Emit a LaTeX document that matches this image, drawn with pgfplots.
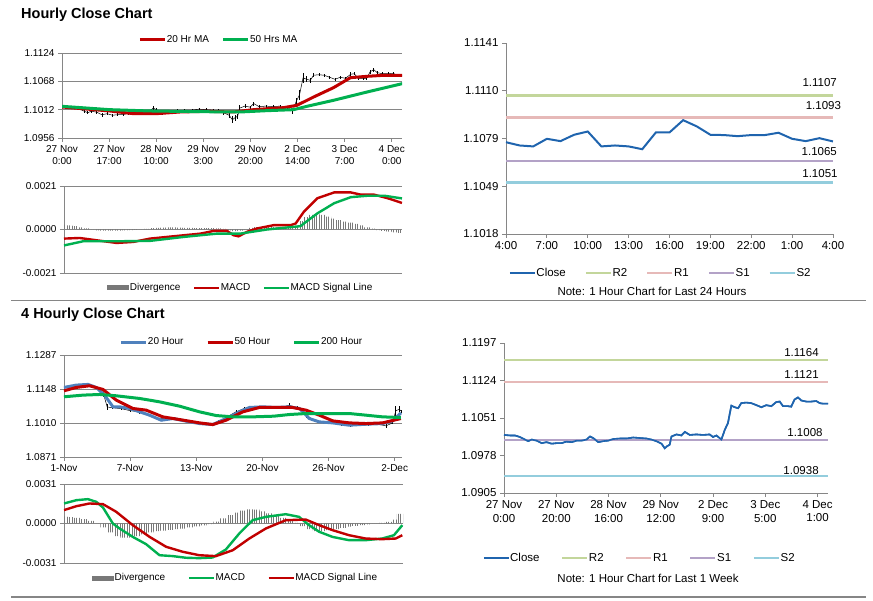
\documentclass[border=0pt]{standalone}
\usepackage{fontspec}
\setmainfont{Liberation Sans}
\usepackage{pgfplots}
\pgfplotsset{compat=1.18}
\usepackage{pgfplotstable}
\usetikzlibrary{patterns.meta}

\definecolor{ma20}{RGB}{192,0,0}
\definecolor{ma50}{RGB}{0,176,80}
\definecolor{steel}{RGB}{79,129,189}
\definecolor{closeblue}{RGB}{31,100,174}
\definecolor{rtwo}{RGB}{195,214,155}
\definecolor{rone}{RGB}{230,185,184}
\definecolor{sone}{RGB}{179,162,199}
\definecolor{stwo}{RGB}{147,205,221}
\definecolor{axisgray}{RGB}{134,134,134}
\definecolor{divgray}{RGB}{120,120,120}

\newcommand{\fs}{\fontsize{10}{12}\selectfont}
\newcommand{\fb}{\fontsize{11.5}{13.5}\selectfont}

\pgfplotsset{
  legend image code/.code={\draw[#1] (0pt,0pt) -- (25pt,0pt);},
  chart/.style={
    scale only axis, anchor=south west, enlargelimits=false,
    axis lines=left,
    axis line style={draw=axisgray, line width=0.9pt, -},
    tick style={draw=axisgray, line width=0.9pt},
    tick align=outside, major tick length=4pt,
    scaled y ticks=false,
    /pgf/number format/assume math mode=true,
    legend columns=-1, legend cell align=left,
    legend style={draw=none, fill=none, anchor=center, inner sep=0pt,
      nodes={inner xsep=0.5pt, inner ysep=1pt}},
  },
  pricegrid/.style={ymajorgrids, grid style={draw=axisgray, line width=0.9pt}},
  divbars/.style={ybar, bar width=#1, draw=none,
    pattern={Lines[angle=90,distance=2.4pt,line width=0.9pt]}, pattern color=divgray,
    legend image code/.code={\fill[divgray] (0pt,-2.5pt) rectangle (22pt,2.5pt);}},
}

% hourly close, last week (hours from 27 Nov 0:00); e = bar half range
\pgfplotstableread{
h c e
0 1.1018 0.0003
2.3 1.1017 0.0003
4.2 1.1017 0.0003
6.1 1.1014 0.0003
8.0 1.1009 0.0004
9.3 1.1006 0.0003
10.6 1.1009 0.0003
12.5 1.1007 0.0003
14.4 1.1002 0.0004
16.3 1.1004 0.0003
18.2 1.1001 0.0003
20.1 1.1002 0.0003
22.0 1.1002 0.0003
23.9 1.1005 0.0003
25.9 1.1004 0.0003
27.8 1.1007 0.0003
29.7 1.1007 0.0003
31.6 1.1009 0.0003
32.9 1.1015 0.0004
34.1 1.1012 0.0003
36.1 1.1004 0.0003
38.0 1.1006 0.0003
39.9 1.1007 0.0003
41.8 1.1010 0.0003
44.3 1.1011 0.0003
46.9 1.1011 0.0003
49.4 1.1013 0.0003
52.0 1.1012 0.0003
54.5 1.1011 0.0003
56.4 1.1009 0.0004
58.3 1.1006 0.0005
60.3 1.1001 0.0006
61.5 1.0992 0.0007
62.4 1.0996 0.0006
63.4 1.0999 0.0005
64.1 1.1015 0.0007
66.0 1.1019 0.0004
67.9 1.1017 0.0003
69.2 1.1024 0.0004
71.1 1.1018 0.0003
73.6 1.1019 0.0003
76.2 1.1018 0.0003
78.7 1.1019 0.0003
80.0 1.1014 0.0003
81.3 1.1017 0.0003
83.2 1.1009 0.0005
84.5 1.1028 0.0008
85.7 1.1041 0.0010
87.0 1.1075 0.0010
88.3 1.1072 0.0006
89.6 1.1070 0.0005
90.8 1.1080 0.0004
92.7 1.1081 0.0003
94.6 1.1080 0.0003
96.6 1.1076 0.0003
98.5 1.1072 0.0003
100.4 1.1076 0.0003
102.3 1.1074 0.0003
104.2 1.1082 0.0004
105.5 1.1083 0.0003
106.8 1.1074 0.0003
108.7 1.1074 0.0003
109.9 1.1073 0.0003
111.2 1.1087 0.0004
112.5 1.1091 0.0004
113.8 1.1085 0.0003
115.7 1.1083 0.0003
117.6 1.1083 0.0003
119.5 1.1084 0.0003
120.8 1.1080 0.0003
122.0 1.1079 0.0003
124.0 1.1079 0.0003
}\closeweek

\pgfplotstableread{
h v
0 1.10173
17.2 1.10094
25.7 1.10041
34.1 1.10041
42.6 1.10074
52.2 1.10087
61.9 1.10074
69.1 1.10120
80.0 1.10160
84.8 1.10206
90.8 1.10370
98.0 1.10555
104.1 1.10752
110.1 1.10779
116.1 1.10799
122.8 1.10799
}\maA

\pgfplotstableread{
h v
0 1.10186
17.2 1.10120
31.7 1.10094
49.8 1.10080
64.3 1.10074
73.9 1.10100
83.6 1.10120
88.4 1.10186
98.0 1.10305
110.1 1.10469
122.8 1.10634
}\maB

\pgfplotstableread{
h v
0 -0.00044
5.7 -0.00041
11.8 -0.00052
19.1 -0.00065
25.2 -0.00060
31.2 -0.00044
37.3 -0.00036
43.4 -0.00028
49.5 -0.00020
54.3 -0.00007
59.2 -0.00007
61.6 -0.00028
63.4 -0.00033
66.5 -0.00011
70.1 0.00005
76.2 0.00021
82.3 0.00021
84.1 0.00029
87.1 0.00086
92.0 0.00151
98.1 0.00179
104.1 0.00179
107.8 0.00168
112.6 0.00168
117.5 0.00151
122.7 0.00128
}\macdA

\pgfplotstableread{
h v
0 -0.00077
6.9 -0.00057
19.1 -0.00057
31.2 -0.00055
43.4 -0.00036
55.5 -0.00020
64.0 -0.00020
73.7 0.00000
85.8 0.00016
92.0 0.00078
98.1 0.00127
104.1 0.00156
110.2 0.00163
116.3 0.00163
122.7 0.00150
}\sigA

\pgfplotstableread{
h v
0 0.00024
2 0.00020
4 0.00016
6 0.00010
8 0.00005
10 0.00000
12 -0.00004
14 -0.00005
16 -0.00005
18 -0.00005
20 -0.00005
22 -0.00004
24 -0.00003
26 -0.00002
28 0.00000
30 0.00003
32 0.00006
34 0.00008
36 0.00009
38 0.00010
40 0.00010
42 0.00009
44 0.00008
46 0.00008
48 0.00007
50 0.00007
52 0.00007
54 0.00006
56 0.00005
58 0.00003
60 -0.00004
62 -0.00008
64 -0.00006
66 0.00002
68 0.00008
70 0.00012
72 0.00013
74 0.00013
76 0.00012
78 0.00010
80 0.00008
82 0.00006
84 0.00015
86 0.00040
88 0.00060
90 0.00070
92 0.00073
94 0.00070
96 0.00062
98 0.00052
100 0.00045
102 0.00038
104 0.00033
106 0.00027
108 0.00020
110 0.00010
112 0.00004
114 -0.00003
116 -0.00007
118 -0.00010
120 -0.00014
122 -0.00016
}\divA

% last 24 hours close
\pgfplotstableread{
h c
0 1.10771
1 1.10750
2 1.10744
3 1.10793
4 1.10778
5 1.10819
6 1.10840
7 1.10744
8 1.10750
9 1.10744
10 1.10726
11 1.10834
12 1.10834
13 1.10913
14 1.10873
15 1.10819
16 1.10817
17 1.10810
18 1.10817
19 1.10817
20 1.10832
21 1.10793
22 1.10778
23 1.10797
24 1.10776
}\closeday

% 4 hourly close (bars from 1 Nov)
\pgfplotstableread{
h c e
0 1.1155 0.0005
4 1.1160 0.0005
8 1.1163 0.0004
12 1.1164 0.0004
16 1.1150 0.0006
18 1.1125 0.0010
19.6 1.1075 0.0012
22 1.1072 0.0006
26 1.1068 0.0005
30 1.1060 0.0005
34 1.1055 0.0008
38 1.1045 0.0006
42 1.1030 0.0006
46 1.1028 0.0005
50 1.1032 0.0004
54 1.1020 0.0005
58 1.1012 0.0005
62 1.1008 0.0004
66 1.1002 0.0005
70 1.1015 0.0006
74 1.1035 0.0006
78 1.1055 0.0008
82 1.1070 0.0006
86 1.1075 0.0005
90 1.1072 0.0005
94 1.1075 0.0004
98 1.1070 0.0005
102 1.1082 0.0009
106 1.1072 0.0006
110 1.1040 0.0008
114 1.1018 0.0006
118 1.1010 0.0005
122 1.1008 0.0004
126 1.1003 0.0004
130 1.0998 0.0004
134 1.1000 0.0004
138 1.1003 0.0004
142 1.1005 0.0004
146 1.0998 0.0010
149 1.1010 0.0006
150.5 1.1060 0.0020
152 1.1065 0.0012
153 1.1058 0.0006
}\closefour

\pgfplotstableread{
h v
0 1.11547
5.6 1.11642
10.9 1.11670
14.6 1.11547
18.4 1.11233
22.2 1.10756
25.2 1.10756
29.7 1.10688
34.3 1.10551
38.8 1.10415
44.1 1.10210
49.4 1.10278
55.4 1.10170
61.5 1.10074
67.5 1.10033
73.5 1.10278
79.6 1.10551
84.1 1.10729
90.1 1.10756
96.2 1.10729
102.2 1.10756
106.8 1.10688
111.3 1.10278
115.8 1.10142
121.9 1.10101
129.4 1.10006
137.0 1.10047
144.5 1.10074
149.0 1.10183
152.8 1.10510
}\maC

\pgfplotstableread{
h v
0 1.11410
5.6 1.11547
11.6 1.11615
17.7 1.11465
23.7 1.11029
31.3 1.10688
37.3 1.10620
44.8 1.10347
52.4 1.10237
61.5 1.10101
67.5 1.10033
73.5 1.10210
81.1 1.10551
88.6 1.10729
96.2 1.10729
103.7 1.10729
109.8 1.10620
115.8 1.10415
121.9 1.10183
129.4 1.10101
137.0 1.10074
144.5 1.10101
152.8 1.10278
}\maD

\pgfplotstableread{
h v
0 1.11165
8.6 1.11233
16.2 1.11260
23.7 1.11206
34.3 1.11097
43.3 1.10960
52.4 1.10783
61.5 1.10551
69.0 1.10401
76.6 1.10347
85.6 1.10347
95.1 1.10374
102.2 1.10442
109.8 1.10483
117.3 1.10483
129.4 1.10483
137.0 1.10415
144.5 1.10347
152.8 1.10319
}\maE

\pgfplotstableread{
h v
0 0.00157
5.6 0.00183
10.8 0.00191
14.6 0.00170
17.6 0.00126
22.1 0.00000
25.1 -0.00039
31.1 -0.00105
37.1 -0.00162
43.2 -0.00249
49.2 -0.00256
55.2 -0.00269
61.2 -0.00272
67.2 -0.00267
73.2 -0.00204
79.3 -0.00078
85.3 0.00026
91.3 0.00052
100.3 0.00073
106.3 0.00052
110.8 -0.00013
115.4 -0.00065
121.4 -0.00105
128.9 -0.00131
136.4 -0.00131
143.9 -0.00118
149.2 -0.00092
153 -0.00013
}\macdB

\pgfplotstableread{
h v
0 0.00105
5.6 0.00136
11.6 0.00157
17.6 0.00152
23.6 0.00092
31.1 -0.00013
38.7 -0.00105
46.2 -0.00183
53.7 -0.00222
61.2 -0.00249
68.7 -0.00256
76.3 -0.00210
83.8 -0.00118
91.3 -0.00039
100.3 0.00026
109.3 0.00031
115.4 -0.00013
121.4 -0.00052
128.9 -0.00092
136.4 -0.00118
143.9 -0.00123
150.0 -0.00118
153 -0.00092
}\sigB

\pgfplotstableread{
h v
0 0.00055
3 0.00050
6 0.00045
9 0.00035
12 0.00020
15 0.00000
18 -0.00030
21 -0.00070
24 -0.00100
27 -0.00110
30 -0.00110
33 -0.00100
36 -0.00085
39 -0.00070
42 -0.00060
45 -0.00055
48 -0.00050
51 -0.00045
54 -0.00040
57 -0.00030
60 -0.00022
63 -0.00015
66 -0.00005
69 0.00015
72 0.00040
75 0.00065
78 0.00085
81 0.00100
84 0.00110
87 0.00108
90 0.00095
93 0.00080
96 0.00060
99 0.00045
102 0.00025
105 0.00005
108 -0.00020
111 -0.00045
114 -0.00060
117 -0.00060
120 -0.00052
123 -0.00045
126 -0.00035
129 -0.00025
132 -0.00018
135 -0.00012
138 -0.00006
141 0.00000
144 0.00005
147 0.00012
150 0.00030
152 0.00075
}\divB

\begin{document}
\begin{tikzpicture}
\path[use as bounding box] (0,0) rectangle (873pt,601pt);

% ---- hourly close, price
\begin{axis}[chart, pricegrid, at={(62pt,463pt)}, width=340pt, height=85pt,
  xmin=0, xmax=122.7, ymin=1.0956, ymax=1.1124,
  ytick={1.0956,1.1012,1.1068,1.1124}, yticklabels={1.0956,1.1012,1.1068,1.1124},
  xtick={0,17,34,51,68,85,102,119},
  xticklabels={{27 Nov\\0:00},{27 Nov\\17:00},{28 Nov\\10:00},{29 Nov\\3:00},{29 Nov\\20:00},{2 Dec\\14:00},{3 Dec\\7:00},{4 Dec\\0:00}},
  xticklabel style={align=center}, tick label style={font=\fs},
  legend style={at={(0.459,1.153)}, font=\fs, /tikz/every even column/.append style={column sep=12pt}},
]
\addplot[black, line width=0.5pt, forget plot, error bars/.cd, y dir=both, y explicit,
  error bar style={black, line width=0.7pt}, error mark=none] table[x=h, y=c, y error=e] {\closeweek};
\addplot[ma20, line width=3pt] table[x=h, y=v] {\maA};
\addlegendentry{20 Hr MA}
\addplot[ma50, line width=3pt] table[x=h, y=v] {\maB};
\addlegendentry{50 Hrs MA}
\end{axis}

% ---- hourly MACD
\begin{axis}[chart, pricegrid, at={(64pt,328pt)}, width=338pt, height=87pt,
  xmin=0, xmax=122.7, ymin=-0.0021, ymax=0.0021,
  ytick={-0.0021,0,0.0021}, yticklabels={-0.0021,0.0000,0.0021},
  xtick=\empty, tick label style={font=\fs},
  legend style={at={(0.521,-0.172)}, font=\fs, /tikz/every even column/.append style={column sep=12pt}},
]
\addplot[divbars=2] table[x=h, y=v] {\divA};
\addlegendentry{Divergence}
\addplot[ma20, line width=2.4pt] table[x=h, y=v] {\macdA};
\addlegendentry{MACD}
\addplot[ma50, line width=2.4pt] table[x=h, y=v] {\sigA};
\addlegendentry{MACD Signal Line}
\end{axis}

% ---- last 24 hours
\begin{axis}[chart, clip=false, at={(506pt,367pt)}, width=327pt, height=191pt,
  xmin=0, xmax=24, ymin=1.1018, ymax=1.1141,
  ytick={1.1018,1.104875,1.10795,1.111025,1.1141}, yticklabels={1.1018,1.1049,1.1079,1.1110,1.1141},
  xtick={0,3,6,9,12,15,18,21,24},
  xticklabels={4:00,7:00,10:00,13:00,16:00,19:00,22:00,1:00,4:00},
  tick label style={font=\fb},
  legend style={at={(0.471,-0.204)}, font=\fb, /tikz/every even column/.append style={column sep=18pt}},
]
\addplot[closeblue, line width=2pt] table[x=h, y=c] {\closeday};
\addlegendentry{Close}
\addplot[rtwo, line width=2.8pt] coordinates {(0,1.1107) (24,1.1107)};
\addlegendentry{R2}
\addplot[rone, line width=2.8pt] coordinates {(0,1.1093) (24,1.1093)};
\addlegendentry{R1}
\addplot[sone, line width=2.8pt] coordinates {(0,1.1065) (24,1.1065)};
\addlegendentry{S1}
\addplot[stwo, line width=2.8pt] coordinates {(0,1.1051) (24,1.1051)};
\addlegendentry{S2}
\node[anchor=south east, inner sep=0pt, font=\fb, yshift=9pt] at (axis cs:24.3,1.1107) {1.1107};
\node[anchor=south east, inner sep=0pt, font=\fb, yshift=7.5pt] at (axis cs:24.6,1.1093) {1.1093};
\node[anchor=south east, inner sep=0pt, font=\fb, yshift=5pt] at (axis cs:24.3,1.1065) {1.1065};
\node[anchor=south east, inner sep=0pt, font=\fb, yshift=5pt] at (axis cs:24.35,1.1051) {1.1051};
\end{axis}

% ---- 4 hourly close, price
\begin{axis}[chart, pricegrid, at={(64pt,144pt)}, width=338pt, height=102pt,
  xmin=0, xmax=153.3, ymin=1.0871, ymax=1.1287,
  ytick={1.0871,1.100967,1.114833,1.1287}, yticklabels={1.0871,1.1010,1.1148,1.1287},
  xtick={0,30,60,90,120,150},
  xticklabels={1-Nov,7-Nov,13-Nov,20-Nov,26-Nov,2-Dec},
  tick label style={font=\fs},
  legend style={at={(0.524,1.127)}, font=\fs, /tikz/every even column/.append style={column sep=22pt}},
]
\addplot[black, line width=0.5pt, forget plot, error bars/.cd, y dir=both, y explicit,
  error bar style={black, line width=0.7pt}, error mark=none] table[x=h, y=c, y error=e] {\closefour};
\addplot[steel, line width=3pt] table[x=h, y=v] {\maC};
\addlegendentry{20 Hour}
\addplot[ma20, line width=3pt] table[x=h, y=v] {\maD};
\addlegendentry{50 Hour}
\addplot[ma50, line width=3pt] table[x=h, y=v] {\maE};
\addlegendentry{200 Hour}
\end{axis}

% ---- 4 hourly MACD
\begin{axis}[chart, pricegrid, at={(64pt,38pt)}, width=339pt, height=79pt,
  xmin=0, xmax=153.3, ymin=-0.0031, ymax=0.0031,
  ytick={-0.0031,0,0.0031}, yticklabels={-0.0031,0.0000,0.0031},
  xtick=\empty, tick label style={font=\fs},
  legend style={at={(0.504,-0.19)}, font=\fs, /tikz/every even column/.append style={column sep=22pt}},
]
\addplot[divbars=3] table[x=h, y=v] {\divB};
\addlegendentry{Divergence}
\addplot[ma50, line width=2.4pt] table[x=h, y=v] {\macdB};
\addlegendentry{MACD}
\addplot[ma20, line width=2.4pt] table[x=h, y=v] {\sigB};
\addlegendentry{MACD Signal Line}
\end{axis}

% ---- last week
\begin{axis}[chart, clip=false, at={(504pt,108pt)}, width=324pt, height=150pt,
  xmin=0, xmax=124, ymin=1.0905, ymax=1.1197,
  ytick={1.0905,1.0978,1.1051,1.1124,1.1197}, yticklabels={1.0905,1.0978,1.1051,1.1124,1.1197},
  xtick={0,20,40,60,80,100,120},
  xticklabels={{27 Nov\\0:00},{27 Nov\\20:00},{28 Nov\\16:00},{29 Nov\\12:00},{2 Dec\\9:00},{3 Dec\\5:00},{4 Dec\\1:00}},
  xticklabel style={align=center}, tick label style={font=\fb},
  legend style={at={(0.417,-0.433)}, font=\fb, /tikz/every even column/.append style={column sep=21pt}},
]
\addplot[closeblue, line width=1.6pt] table[x=h, y=c] {\closeweek};
\addlegendentry{Close}
\addplot[rtwo, line width=2.4pt] coordinates {(0,1.1164) (124,1.1164)};
\addlegendentry{R2}
\addplot[rone, line width=2.4pt] coordinates {(0,1.1121) (124,1.1121)};
\addlegendentry{R1}
\addplot[sone, line width=2.4pt] coordinates {(0,1.1008) (124,1.1008)};
\addlegendentry{S1}
\addplot[stwo, line width=2.4pt] coordinates {(0,1.0938) (124,1.0938)};
\addlegendentry{S2}
\addplot[closeblue, line width=1.6pt, forget plot] table[x=h, y=c] {\closeweek};
\node[anchor=south east, inner sep=0pt, font=\fb, yshift=3.5pt] at (axis cs:120.5,1.1164) {1.1164};
\node[anchor=south east, inner sep=0pt, font=\fb, yshift=3.5pt] at (axis cs:120.5,1.1121) {1.1121};
\node[anchor=south east, inner sep=0pt, font=\fb, yshift=3pt] at (axis cs:122,1.1008) {1.1008};
\node[anchor=south east, inner sep=0pt, font=\fb, yshift=1pt] at (axis cs:120.5,1.0938) {1.0938};
\end{axis}

% titles, notes, separators
\node[anchor=base west, inner sep=0pt, font=\fontsize{14.5}{17}\selectfont\bfseries] at (21pt,582pt) {Hourly Close Chart};
\node[anchor=base west, inner sep=0pt, font=\fontsize{14.5}{17}\selectfont\bfseries] at (21pt,282pt) {4 Hourly Close Chart};
\node[anchor=base, inner sep=0pt, font=\fb] at (652pt,305pt) {Note: 1 Hour Chart for Last 24 Hours};
\node[anchor=base, inner sep=0pt, font=\fb] at (648pt,18pt) {Note: 1 Hour Chart for Last 1 Week};
\draw[axisgray, line width=1.3pt] (11pt,300.5pt) -- (866pt,300.5pt);
\draw[axisgray, line width=1.3pt] (11pt,4pt) -- (866pt,4pt);
\end{tikzpicture}
\end{document}
